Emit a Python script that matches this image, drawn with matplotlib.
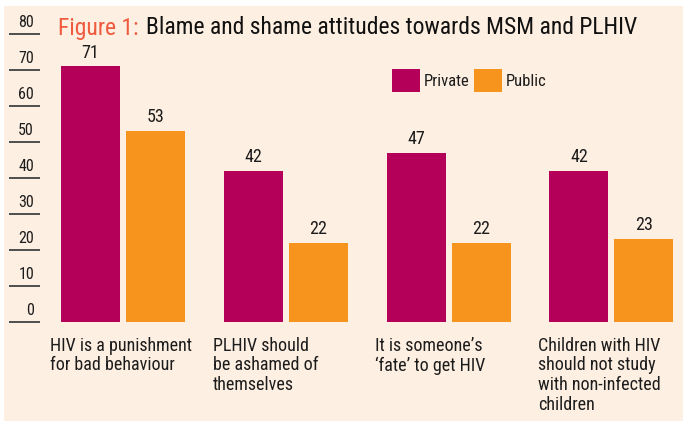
import matplotlib
matplotlib.use("Agg")
import matplotlib.pyplot as plt
from matplotlib import font_manager
import numpy as np

# pick a condensed face if one is there
names = {f.name for f in font_manager.fontManager.ttflist}
face = 'Liberation Sans'
for cand in ['Liberation Sans Narrow', 'Roboto Condensed', 'Open Sans Condensed',
             'Noto Sans Condensed', 'DejaVu Sans Condensed']:
    if cand in names:
        face = cand
        break
plt.rcParams['font.family'] = [face, 'DejaVu Sans']

categories = ["HIV is a punishment\nfor bad behaviour",
              "PLHIV should\nbe ashamed of\nthemselves",
              "It is someone\u2019s\n\u2018fate\u2019 to get HIV",
              "Children with HIV\nshould not study\nwith non-infected\nchildren"]
private = [71, 42, 47, 42]
public = [53, 22, 22, 23]
yticks = [0, 10, 20, 30, 40, 50, 60, 70, 80]

bg = '#FDEFE1'
c_priv = '#B5005A'
c_pub = '#F7941D'
ink = '#1c1c1c'

fig = plt.figure(figsize=(6.84, 4.21), dpi=100, facecolor='white')
# peach panel
fig.patches.append(plt.Rectangle((4/684, 0), 679/684, 415/421, transform=fig.transFigure,
                                 facecolor=bg, edgecolor='none', zorder=-5))

ax = fig.add_axes([0, 99/421, 1, 288/421])
ax.set_facecolor('none')
for s in ax.spines.values():
    s.set_visible(False)
ax.set_xticks([])
ax.set_yticks([])
ax.set_ylim(0, 80)
ax.set_xlim(-0.7555, 3.446)

x = np.arange(len(categories))
w = 0.3624
off = 0.1996
b1 = ax.bar(x - off, private, w, color=c_priv, label='Private')
b2 = ax.bar(x + off, public, w, color=c_pub, label='Public')

for bars, vals in ((b1, private), (b2, public)):
    for r, v in zip(bars, vals):
        ax.annotate(str(v), (r.get_x() + r.get_width()/2, v), xytext=(0, 3.5),
                    textcoords='offset points', ha='center', va='bottom',
                    fontsize=13, color=ink)

yt = ax.get_yaxis_transform()
ax.hlines(yticks, 9/684, 40/684, transform=yt, color='#333333', lw=1.2, clip_on=False)
for t in yticks:
    ax.annotate(str(t), (34/684, t), xycoords=yt, xytext=(0, 3),
                textcoords='offset points', ha='right', va='bottom',
                fontsize=11.5, color=ink)

for i, lab in enumerate(categories):
    ax.annotate(lab, (x[i] - 0.45, 0), xytext=(0, -10.5), textcoords='offset points',
                ha='left', va='top', fontsize=13, color=ink, linespacing=1.12,
                annotation_clip=False)

leg = ax.legend(ncol=2, loc='upper left', bbox_to_anchor=(392/684, 352/421),
                bbox_transform=fig.transFigure, frameon=False, fontsize=12,
                handlelength=1.65, handleheight=1.75, handletextpad=0.25,
                columnspacing=0.3, borderpad=0, borderaxespad=0)
for t in leg.get_texts():
    t.set_color(ink)

fig.text(58/684, 1 - 28/421, 'Figure 1:', fontsize=17, color='#EF5B3F', va='center', ha='left')
fig.text(146/684, 1 - 28/421, 'Blame and shame attitudes towards MSM and PLHIV',
         fontsize=17, color='#111111', va='center', ha='left')

fig.savefig('out.png', dpi=100, facecolor='white')
